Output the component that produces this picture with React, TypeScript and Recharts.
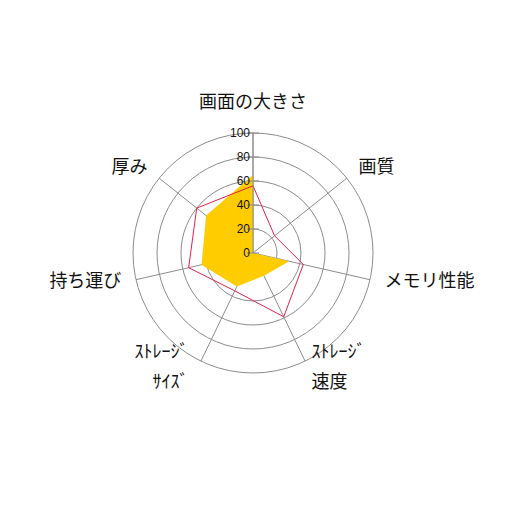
import { RadarChart, Radar, PolarGrid, PolarAngleAxis, PolarRadiusAxis } from 'recharts'

// ---- data ----
const categories = ['画面の大きさ', '画質', 'メモリ性能', 'ｽﾄﾚｰｼﾞ\n速度', 'ｽﾄﾚｰｼﾞ\nｻｲｽﾞ', '持ち運び', '厚み']
const yellowValues = [65, 0, 31, 21, 31, 44, 50]
const redValues = [56, 23, 43, 59, 35, 55, 60]
const radiusTicks = [0, 20, 40, 60, 80, 100]

const data = categories.map((name, i) => ({
  name,
  yellow: yellowValues[i],
  red: redValues[i],
}))

const CX = 245
const CY = 245
const OUTER = 120
const GRID = '#8c8c8c'
const JP_FONT = '"Noto Sans CJK JP", "Noto Sans", sans-serif'

// category label: pushed out along the spoke, anchored on the side it sits
function AngleTick({ payload }: any) {
  const angle = payload.coordinate
  const rad = (-angle * Math.PI) / 180
  const dx = Math.cos(rad)
  const dy = Math.sin(rad)
  const lines = String(payload.value).split('\n')
  let anchor: 'start' | 'middle' | 'end' = 'middle'
  let r = 153
  if (Math.abs(dx) > 0.1) {
    anchor = dx > 0 ? 'start' : 'end'
    r = 135
  }
  let x = CX + dx * r
  const y = CY + dy * r
  // lower-left label sits a little further left in the original
  if (dx < -0.1 && dy > 0.5) x -= 6
  const mid = Math.abs(dx) > 0.1 ? y - 4 - 6 * (lines.length - 1) : y
  const first = mid - ((lines.length - 1) * 30) / 2
  return (
    <g>
      {lines.map((line, i) => (
        <text
          key={i}
          x={x}
          y={first + i * 30}
          textAnchor={anchor}
          dominantBaseline="central"
          fontSize={18}
          fontFamily={JP_FONT}
          fill="#111"
        >
          {line}
        </text>
      ))}
    </g>
  )
}

function RadiusTick({ x, y, payload }: any) {
  return (
    <g>
      <line x1={x - 6} x2={x + 6} y1={y} y2={y} stroke={GRID} />
      <text
        x={x - 3}
        y={y}
        dy={4}
        textAnchor="end"
        fontSize={12}
        fontFamily='"Liberation Sans Narrow", "Liberation Sans", sans-serif'
        fill="#111"
      >
        {payload.value}
      </text>
    </g>
  )
}

export default function App() {
  return (
    <RadarChart width={490} height={490} data={data} cx={CX} cy={CY} outerRadius={OUTER} margin={{ top: 0, right: 0, bottom: 0, left: 0 }}>
      <PolarGrid gridType="circle" stroke={GRID} radialLines={false} />
      <Radar
        dataKey="yellow"
        fill="#FFCC00"
        fillOpacity={1}
        stroke="none"
        isAnimationActive={false}
      />
      <PolarGrid gridType="circle" stroke={GRID} polarRadius={[]} />
      <PolarAngleAxis dataKey="name" tick={<AngleTick />} tickLine={false} axisLine={false} />
      <PolarRadiusAxis
        angle={90}
        domain={[0, 100]}
        ticks={radiusTicks as any}
        tickCount={6}
        tick={<RadiusTick />}
        axisLine={{ stroke: GRID }}
      />
      <Radar
        dataKey="red"
        fill="none"
        fillOpacity={0}
        stroke="#E5204F"
        strokeWidth={1}
        isAnimationActive={false}
      />
    </RadarChart>
  )
}
